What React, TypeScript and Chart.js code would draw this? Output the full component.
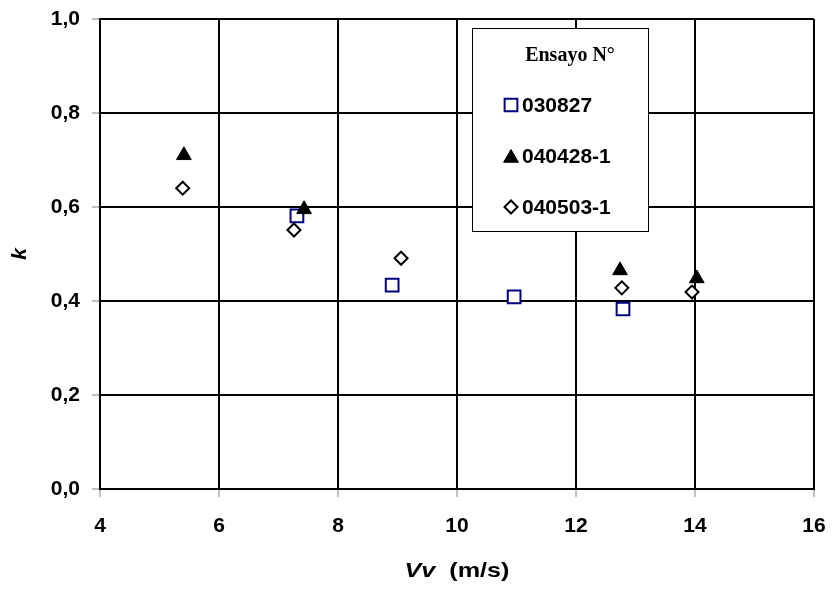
import React, { useEffect, useRef } from 'react';
import { Chart, registerables } from 'chart.js';

Chart.register(...registerables);

// ---- Data ----
const seriesNames = ['030827', '040428-1', '040503-1'];
const vv030827 = [7.31, 8.91, 10.96, 12.79];
const k030827 = [0.581, 0.434, 0.409, 0.383];
const vv040428 = [5.41, 7.43, 12.74, 14.03];
const k040428 = [0.71, 0.595, 0.465, 0.448];
const vv040503 = [5.39, 7.26, 9.06, 12.77, 13.95];
const k040503 = [0.64, 0.551, 0.491, 0.428, 0.419];
const xMin = 4, xMax = 16, xStep = 2;
const yMin = 0, yMax = 1, yStep = 0.2;
const legendTitle = 'Ensayo N°';
const xTitleItalic = 'Vv';
const xTitleRest = '(m/s)';
const yTitle = 'k';

const SANS = "'Liberation Sans', Arial, sans-serif";
const SERIF = "'Liberation Serif', 'Times New Roman', serif";
const NAVY = '#000080';

const toPts = (xs: number[], ys: number[]) => xs.map((x, i) => ({ x, y: ys[i] }));

function drawMarker(ctx: CanvasRenderingContext2D, kind: string, x: number, y: number) {
  ctx.save();
  ctx.beginPath();
  if (kind === 'rect') {
    const s = 9 * Math.SQRT1_2;
    ctx.rect(x - s, y - s, 2 * s, 2 * s);
    ctx.fillStyle = '#fff';
    ctx.fill();
    ctx.lineWidth = 2;
    ctx.strokeStyle = NAVY;
    ctx.stroke();
  } else if (kind === 'triangle') {
    const r = 8.5;
    for (let i = 0; i < 3; i++) {
      const a = (i * 2 * Math.PI) / 3;
      const px = x + Math.sin(a) * r;
      const py = y - Math.cos(a) * r;
      if (i === 0) ctx.moveTo(px, py); else ctx.lineTo(px, py);
    }
    ctx.closePath();
    ctx.fillStyle = '#000';
    ctx.fill();
    ctx.lineWidth = 1;
    ctx.strokeStyle = '#000';
    ctx.stroke();
  } else {
    const r = 6.5;
    ctx.moveTo(x - r, y);
    ctx.lineTo(x, y - r);
    ctx.lineTo(x + r, y);
    ctx.lineTo(x, y + r);
    ctx.closePath();
    ctx.fillStyle = '#fff';
    ctx.fill();
    ctx.lineWidth = 2;
    ctx.strokeStyle = '#000';
    ctx.stroke();
  }
  ctx.restore();
}

const overlayPlugin = {
  id: 'overlay',
  afterDraw(chart: any) {
    const ctx: CanvasRenderingContext2D = chart.ctx;
    const area = chart.chartArea;
    ctx.save();
    // Legend box
    const bx = 472, by = 28, bw = 176, bh = 203;
    ctx.fillStyle = '#fff';
    ctx.fillRect(bx, by, bw, bh);
    ctx.strokeStyle = '#000';
    ctx.lineWidth = 1;
    ctx.strokeRect(bx + 0.5, by + 0.5, bw, bh);
    ctx.fillStyle = '#000';
    ctx.font = `bold 20px ${SERIF}`;
    ctx.textAlign = 'center';
    ctx.textBaseline = 'middle';
    ctx.fillText(legendTitle, 570, 56);
    const kinds = ['rect', 'triangle', 'rectRot'];
    const rowsY = [105, 156, 207];
    ctx.font = `bold 21px ${SANS}`;
    ctx.textAlign = 'left';
    chart.data.datasets.forEach((ds: any, i: number) => {
      drawMarker(ctx, kinds[i], 511, rowsY[i] + (kinds[i] === 'triangle' ? 2 : 0));
      ctx.fillStyle = '#000';
      ctx.fillText(ds.label, 522, rowsY[i] + 1);
    });
    // X title (slightly stretched horizontally)
    const stretch = 1.2;
    ctx.font = `italic bold 21px ${SANS}`;
    const w1 = ctx.measureText(xTitleItalic + '  ').width;
    ctx.font = `bold 21px ${SANS}`;
    const w2 = ctx.measureText(xTitleRest).width;
    const cx = (area.left + area.right) / 2;
    ctx.save();
    ctx.translate(cx, 577);
    ctx.scale(stretch, 1);
    const sx = -(w1 + w2) / 2;
    ctx.textBaseline = 'alphabetic';
    ctx.textAlign = 'left';
    ctx.font = `italic bold 21px ${SANS}`;
    ctx.fillText(xTitleItalic, sx, 0);
    ctx.font = `bold 21px ${SANS}`;
    ctx.fillText(xTitleRest, sx + w1, 0);
    ctx.restore();
    // Y title
    ctx.translate(20, (area.top + area.bottom) / 2);
    ctx.rotate(-Math.PI / 2);
    ctx.font = `italic bold 21px ${SANS}`;
    ctx.textAlign = 'center';
    ctx.textBaseline = 'middle';
    ctx.fillText(yTitle, 0, 0);
    ctx.restore();
  },
};

export default function App() {
  const ref = useRef<HTMLCanvasElement | null>(null);
  useEffect(() => {
    if (!ref.current) return;
    const chart = new Chart(ref.current, {
      type: 'scatter',
      data: {
        datasets: [
          {
            label: seriesNames[0],
            data: toPts(vv030827, k030827),
            pointStyle: 'rect',
            pointRadius: 9,
            pointHoverRadius: 9,
            borderColor: NAVY,
            backgroundColor: '#fff',
            borderWidth: 2,
            order: 3,
          },
          {
            label: seriesNames[1],
            data: toPts(vv040428, k040428),
            pointStyle: 'triangle',
            pointRadius: 8.5,
            pointHoverRadius: 8.5,
            borderColor: '#000',
            backgroundColor: '#000',
            borderWidth: 1,
            order: 2,
          },
          {
            label: seriesNames[2],
            data: toPts(vv040503, k040503),
            pointStyle: 'rectRot',
            pointRadius: 6.5,
            pointHoverRadius: 6.5,
            borderColor: '#000',
            backgroundColor: '#fff',
            borderWidth: 2,
            order: 1,
          },
        ],
      },
      options: {
        animation: false,
        responsive: false,
        events: [],
        layout: { padding: { top: 19, right: 18, left: 0, bottom: 0 } },
        plugins: { legend: { display: false }, tooltip: { enabled: false } },
        scales: {
          x: {
            type: 'linear',
            min: xMin,
            max: xMax,
            afterFit: (s: any) => {
              s.height = 103;
              s.paddingLeft = 0;
              s.paddingRight = 0;
              s.paddingTop = 0;
              s.paddingBottom = 0;
            },
            ticks: {
              stepSize: xStep,
              color: '#000',
              padding: 17,
              font: { family: SANS, size: 21, weight: 'bold' },
              callback: (v: any) => String(v),
            },
            grid: { color: '#000', lineWidth: 2, tickColor: '#808080', tickWidth: 1, tickLength: 8 },
            border: { display: true, color: '#000', width: 2 },
          },
          y: {
            type: 'linear',
            min: yMin,
            max: yMax,
            afterFit: (s: any) => {
              s.width = 100;
              s.paddingLeft = 0;
              s.paddingRight = 0;
              s.paddingTop = 0;
              s.paddingBottom = 0;
            },
            ticks: {
              stepSize: yStep,
              color: '#000',
              padding: 12,
              font: { family: SANS, size: 21, weight: 'bold' },
              callback: (v: any) => Number(v).toFixed(1).replace('.', ','),
            },
            grid: { color: '#000', lineWidth: 2, tickColor: '#808080', tickWidth: 1, tickLength: 8 },
            border: { display: true, color: '#000', width: 2 },
          },
        },
      },
      plugins: [overlayPlugin],
    });
    return () => chart.destroy();
  }, []);
  return (
    <div style={{ position: 'fixed', left: 0, top: 0, width: 832, height: 592, background: '#fff' }}>
      <canvas ref={ref} width={832} height={592} />
    </div>
  );
}
